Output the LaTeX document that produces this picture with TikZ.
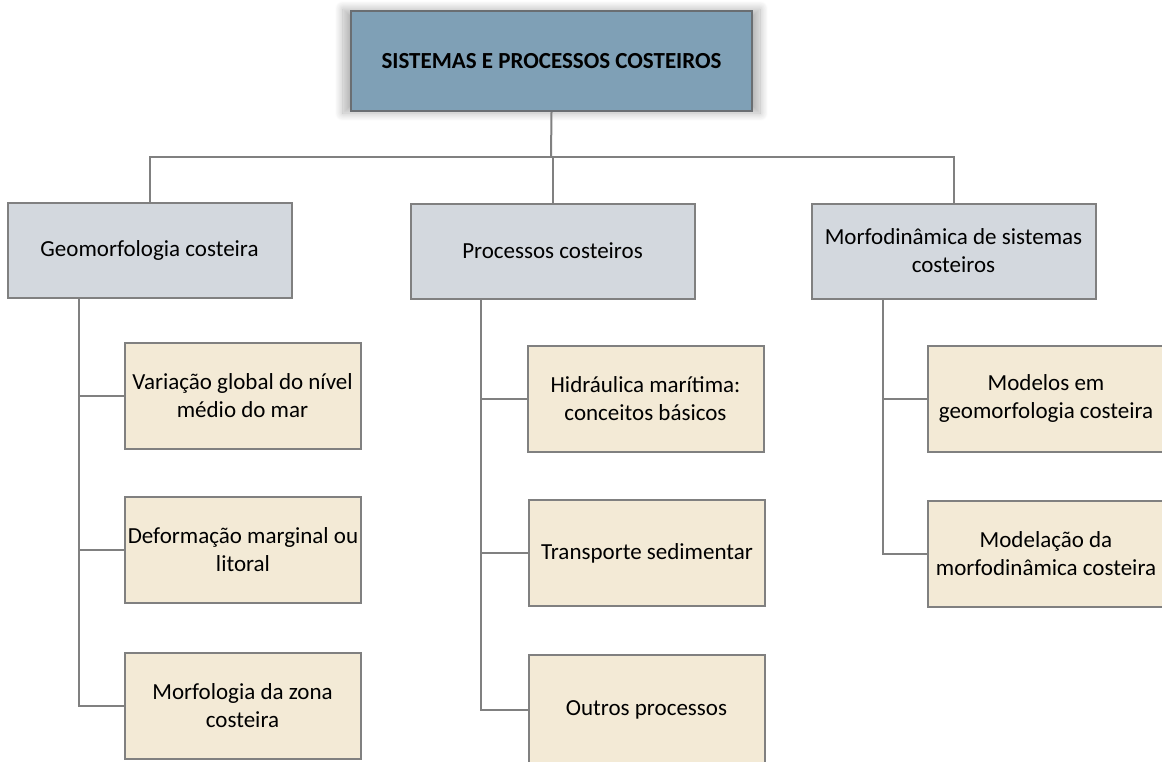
\documentclass[tikz,border=0pt]{standalone}
\usepackage{fontspec}
\setmainfont{Carlito}
\usetikzlibrary{shadows.blur}
\definecolor{topfill}{HTML}{7FA0B6}
\definecolor{midfill}{HTML}{D3D8DE}
\definecolor{lowfill}{HTML}{F3EAD6}
\definecolor{edge}{HTML}{808080}
\definecolor{topedge}{HTML}{6A6E72}
\tikzset{
  box/.style={draw=edge, line width=2pt, align=center, font=\fontsize{23}{28}\selectfont, inner sep=2pt},
  topbox/.style={box, draw=topedge, fill=topfill, minimum width=401pt, minimum height=100pt,
     font=\fontsize{23}{28}\selectfont\bfseries,
     blur shadow={shadow xshift=0pt, shadow yshift=0pt, shadow scale=1.04, shadow blur steps=14, shadow blur radius=8pt, shadow opacity=30}},
  midbox/.style={box, fill=midfill, minimum width=284pt, minimum height=95pt},
  lowbox/.style={box, fill=lowfill, minimum width=236pt, minimum height=106pt},
  link/.style={draw=edge, line width=2pt}
}
\begin{document}
\begin{tikzpicture}[x=1pt,y=-1pt]
\useasboundingbox (0,0) rectangle (1162,761);
\clip (0,0) rectangle (1162,761);
\node[topbox] (top) at (551.5,61) {SISTEMAS E PROCESSOS COSTEIROS};
\node[midbox] (geo) at (149.5,250.5) {Geomorfologia costeira};
\node[midbox] (proc) at (552.5,251) {Processos costeiros};
\node[midbox] (morf) at (953.5,251) {Morfodinâmica de sistemas\\costeiros};
\node[lowbox] (g1) at (242.5,395.5) {Variação global do nível\\médio do mar};
\node[lowbox] (g2) at (243,549.5) {Deformação marginal ou\\litoral};
\node[lowbox] (g3) at (242.5,705.5) {Morfologia da zona\\costeira};
\node[lowbox] (p1) at (645.5,398.5) {Hidráulica marítima:\\conceitos básicos};
\node[lowbox] (p2) at (647,553) {Transporte sedimentar};
\node[lowbox, minimum height=110pt] (p3) at (646.5,710) {Outros processos};
\node[lowbox] (m1) at (1046,398.5) {Modelos em\\geomorfologia costeira};
\node[lowbox] (m2) at (1046,553.5) {Modelação da\\morfodinâmica costeira};
\coordinate (hub) at (551,157);
% top level connectors
\draw[link] (top.south) -- (hub);
\draw[link] (geo.north) |- (hub);
\draw[link] (morf.north) |- (hub);
\draw[link] (proc.north) -- (proc.north |- hub);
% column connectors
\draw[link] (geo.south -| 79,0) |- (g1.west);
\draw[link] (geo.south -| 79,0) |- (g2.west);
\draw[link] (geo.south -| 79,0) |- (g3.west);
\draw[link] (proc.south -| 481,0) |- (p1.west);
\draw[link] (proc.south -| 481,0) |- (p2.west);
\draw[link] (proc.south -| 481,0) |- (p3.west);
\draw[link] (morf.south -| 883,0) |- (m1.west);
\draw[link] (morf.south -| 883,0) |- (m2.west);
\end{tikzpicture}
\end{document}
